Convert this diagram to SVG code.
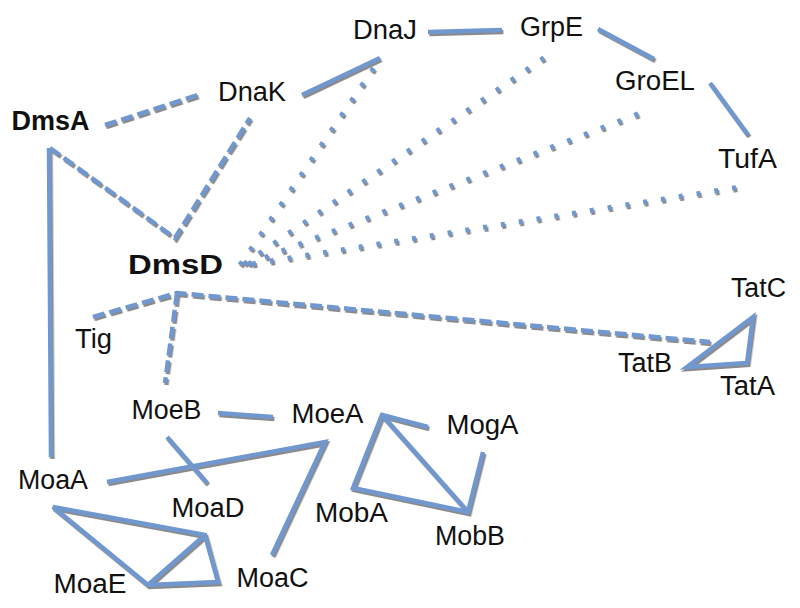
<svg xmlns="http://www.w3.org/2000/svg" width="800" height="608" viewBox="0 0 800 608">
<defs>
<filter id="sh" x="-10%" y="-10%" width="120%" height="120%">
<feDropShadow dx="1.4" dy="2" stdDeviation="0.5" flood-color="#8a8a8a" flood-opacity="1"/>
</filter>
<style>
.e{stroke:#6f98cf;stroke-width:4.5;fill:none;stroke-linecap:butt;stroke-linejoin:miter}
.d{stroke-dasharray:12 5}
.o{stroke-dasharray:4 14;stroke-width:5}
text{font-family:"Liberation Sans",Arial,Helvetica,sans-serif;font-size:27px;fill:#111}
.b{font-weight:bold}
</style>
</defs>
<rect width="800" height="608" fill="#fff"/>
<g id="connectors" filter="url(#sh)">
<line class="e d" x1="105" y1="125" x2="198" y2="95"/>
<line class="e" x1="302" y1="95" x2="380" y2="58"/>
<line class="e" x1="428" y1="32" x2="502" y2="30"/>
<line class="e" x1="598" y1="29" x2="654" y2="59"/>
<line class="e" x1="710" y1="83" x2="748" y2="135"/>
<line class="e" x1="49" y1="148" x2="51" y2="457"/>
<polyline class="e d" points="50,148 175,238 250,118"/>
<line class="e o" x1="240" y1="265" x2="377" y2="63"/>
<line class="e o" x1="244" y1="264" x2="548" y2="55"/>
<line class="e o" x1="248" y1="264" x2="643" y2="112"/>
<line class="e o" x1="252" y1="264" x2="740" y2="187"/>
<polyline class="e d" points="93,317 177,293 710,342"/>
<line class="e d" x1="177" y1="293" x2="165" y2="383"/>
<polygon class="e" points="687,367 753,317 747,363"/>
<line class="e" x1="218" y1="413" x2="273" y2="417"/>
<line class="e" x1="167" y1="437" x2="207" y2="483"/>
<polyline class="e" points="107,482 325,442 272,555"/>
<polygon class="e" points="53,507 205,535 218,582 148,585"/>
<line class="e" x1="148" y1="585" x2="205" y2="535"/>
<polyline class="e" points="428,427 382,415 353,488 468,512 483,452"/>
<line class="e" x1="382" y1="415" x2="468" y2="512"/>
</g>
<g id="DmsA"><text class="b" x="11.5" y="129.5" font-size="24" textLength="78" lengthAdjust="spacingAndGlyphs">DmsA</text></g>
<g id="DmsD"><text class="b" x="128" y="273.5" font-size="26" textLength="95" lengthAdjust="spacingAndGlyphs">DmsD</text></g>
<g id="DnaK"><text x="218" y="101" textLength="68" lengthAdjust="spacingAndGlyphs">DnaK</text></g>
<g id="DnaJ"><text x="353" y="39" textLength="64" lengthAdjust="spacingAndGlyphs">DnaJ</text></g>
<g id="GrpE"><text x="520" y="36" textLength="63" lengthAdjust="spacingAndGlyphs">GrpE</text></g>
<g id="GroEL"><text x="615" y="90" textLength="80" lengthAdjust="spacingAndGlyphs">GroEL</text></g>
<g id="TufA"><text x="718" y="168" textLength="59" lengthAdjust="spacingAndGlyphs">TufA</text></g>
<g id="TatC"><text x="731" y="297" textLength="55" lengthAdjust="spacingAndGlyphs">TatC</text></g>
<g id="TatB"><text x="618" y="371.5" textLength="54" lengthAdjust="spacingAndGlyphs">TatB</text></g>
<g id="TatA"><text x="720" y="395" textLength="55" lengthAdjust="spacingAndGlyphs">TatA</text></g>
<g id="Tig"><text x="75" y="348" textLength="37" lengthAdjust="spacingAndGlyphs">Tig</text></g>
<g id="MoeB"><text x="131.5" y="418.5" textLength="70" lengthAdjust="spacingAndGlyphs">MoeB</text></g>
<g id="MoeA"><text x="291.5" y="423" textLength="72" lengthAdjust="spacingAndGlyphs">MoeA</text></g>
<g id="MogA"><text x="446.5" y="433.5" textLength="72" lengthAdjust="spacingAndGlyphs">MogA</text></g>
<g id="MoaA"><text x="18" y="488.5" textLength="70" lengthAdjust="spacingAndGlyphs">MoaA</text></g>
<g id="MoaD"><text x="171.5" y="517" textLength="73" lengthAdjust="spacingAndGlyphs">MoaD</text></g>
<g id="MobA"><text x="315" y="521.5" textLength="73" lengthAdjust="spacingAndGlyphs">MobA</text></g>
<g id="MobB"><text x="435" y="545" textLength="70" lengthAdjust="spacingAndGlyphs">MobB</text></g>
<g id="MoaE"><text x="53.5" y="593" textLength="73" lengthAdjust="spacingAndGlyphs">MoaE</text></g>
<g id="MoaC"><text x="236.5" y="586.5" textLength="72" lengthAdjust="spacingAndGlyphs">MoaC</text></g>
</svg>
